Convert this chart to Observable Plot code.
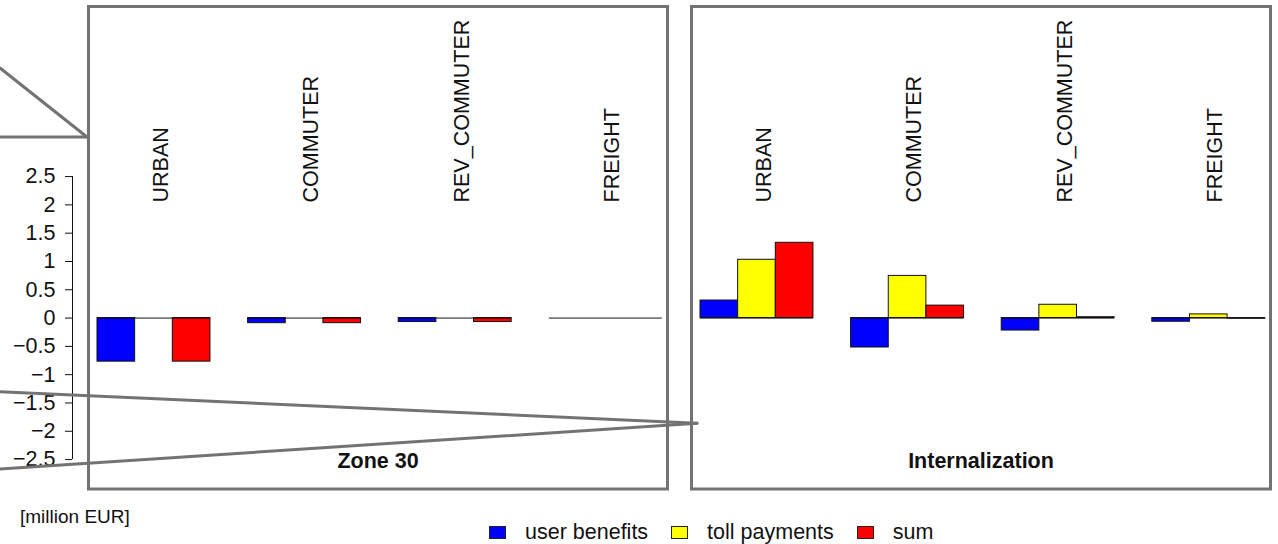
<!DOCTYPE html>
<html>
<head>
<meta charset="utf-8">
<script src="https://cdn.jsdelivr.net/npm/d3@7"></script>
<script src="https://cdn.jsdelivr.net/npm/@observablehq/plot@0.6"></script>
<style>
  body { margin: 0; background: #fff; font-family: "Liberation Sans", Arial, sans-serif; }
  #wrap { position: relative; width: 1278px; height: 544px; overflow: hidden; }
  #wrap svg { position: absolute; left: 0; top: 0; }
  #unit { position: absolute; left: 20px; top: 506px; font-size: 19px; line-height: 22px; color: #111; }
  #legend { position: absolute; left: 489px; top: 520px; height: 24px; display: flex; align-items: center;
            font-size: 21.5px; line-height: 24px; color: #111; white-space: nowrap; }
  .sw { width: 17px; height: 13px; border: 1px solid #222; box-sizing: border-box; margin-right: 19px; }
  .lab { margin-right: 23px; }
</style>
</head>
<body>
<div id="wrap"></div>
<script>
// Scenario panels, transport segments and the three result series
const scenarios = ["Zone 30", "Internalization"];
const categories = ["URBAN", "COMMUTER", "REV_COMMUTER", "FREIGHT"];
const seriesNames = ["user benefits", "toll payments", "sum"];
const seriesColors = ["#0000ff", "#ffff00", "#ff0000"];

// Values in million EUR, one entry per segment
const zone30UserBenefits = [-0.77, -0.09, -0.07, 0];
const zone30TollPayments = [0, 0, 0, 0];
const zone30Sum = [-0.77, -0.09, -0.07, 0];
const internalizationUserBenefits = [0.31, -0.52, -0.22, -0.065];
const internalizationTollPayments = [1.03, 0.745, 0.235, 0.065];
const internalizationSum = [1.33, 0.22, 0.015, -0.01];

const yTicks = [2.5, 2, 1.5, 1, 0.5, 0, -0.5, -1, -1.5, -2, -2.5];
const unitLabel = "[million EUR]";

// Long table: bars side by side inside each segment, one empty slot between segments
const valuesByScenario = {
  "Zone 30": [zone30UserBenefits, zone30TollPayments, zone30Sum],
  "Internalization": [internalizationUserBenefits, internalizationTollPayments, internalizationSum]
};
const rows = [];
for (const scenario of scenarios) {
  valuesByScenario[scenario].forEach((vals, s) => {
    vals.forEach((value, c) => {
      rows.push({scenario, category: categories[c], series: seriesNames[s], slot: c * 4 + s, value});
    });
  });
}
const slotsPerGroup = 4;
const barsPerGroup = seriesNames.length;

const grey = "#737373";
const W = 1278, H = 500;

const chart = Plot.plot({
  width: W,
  height: H,
  marginLeft: 88,
  marginRight: 7,
  marginTop: 6,
  marginBottom: 11.5,
  style: {fontFamily: "Liberation Sans, Arial, sans-serif", fontSize: "21.5px", color: "#111", background: "#fff"},
  fx: {domain: scenarios, paddingInner: 0.039, paddingOuter: 0, axis: null, label: null},
  x: {type: "linear", domain: [-0.239, categories.length * slotsPerGroup - 1 + 0.139], axis: null},
  y: {domain: [-3.02, 5.505], axis: null},
  color: {domain: seriesNames, range: seriesColors},
  marks: [
    // panel borders
    Plot.frame({stroke: grey, strokeWidth: 3}),
    // bars
    Plot.rect(rows, {
      fx: "scenario",
      x1: "slot",
      x2: d => d.slot + 1,
      y1: () => 0,
      y2: "value",
      fill: "series",
      stroke: "#111",
      strokeWidth: 1
    }),
    // base line of every bar (visible where a value is zero)
    Plot.ruleY(rows, {
      fx: "scenario",
      y: () => 0,
      x1: "slot",
      x2: d => d.slot + 1,
      stroke: "#111",
      strokeWidth: 1
    }),
    // segment names, rotated
    Plot.text(categories, {
      x: (d, i) => i * slotsPerGroup + barsPerGroup / 2,
      text: d => d,
      frameAnchor: "top",
      dy: 196,
      dx: 6.7,
      rotate: -90,
      textAnchor: "start",
      lineAnchor: "middle",
      fill: "#111"
    }),
    // panel titles
    Plot.text(scenarios, {
      fx: d => d,
      text: d => d,
      frameAnchor: "bottom",
      dy: -21.5,
      fontWeight: "bold",
      fill: "#111"
    }),
    // value axis, set off to the left of the first panel
    Plot.axisY({
      ticks: yTicks,
      tickFormat: d3.format(""),
      tickSize: 7,
      tickPadding: 10,
      dx: -16,
      label: null,
      stroke: "#111",
      fill: "#111"
    }),
    Plot.ruleX([-0.239], {
      y1: d3.min(yTicks),
      y2: d3.max(yTicks),
      dx: -16,
      stroke: "#111",
      strokeWidth: 1,
      facetAnchor: "left"
    })
  ]
});

document.getElementById("wrap").appendChild(chart);

// connector lines linking the panels to the neighbouring figure
const connectors = [
  [[0, 68], [87, 137]],
  [[0, 137], [87, 137]],
  [[0, 391.7], [697, 423.3]],
  [[0, 469], [697, 423.3]]
];
const svg = d3.select(chart.tagName.toLowerCase() === "svg" ? chart : chart.querySelector("svg"));
svg.append("g")
  .attr("stroke", grey)
  .attr("stroke-width", 3)
  .attr("stroke-linecap", "round")
  .selectAll("line")
  .data(connectors)
  .join("line")
  .attr("x1", d => d[0][0]).attr("y1", d => d[0][1])
  .attr("x2", d => d[1][0]).attr("y2", d => d[1][1]);

// unit label and legend below the chart
const wrap = d3.select("#wrap");
wrap.append("div").attr("id", "unit").text(unitLabel);
const legend = wrap.append("div").attr("id", "legend");
seriesNames.forEach((name, i) => {
  legend.append("div").attr("class", "sw").style("background", seriesColors[i]);
  legend.append("div").attr("class", "lab").text(name);
});
</script>
</body>
</html>
